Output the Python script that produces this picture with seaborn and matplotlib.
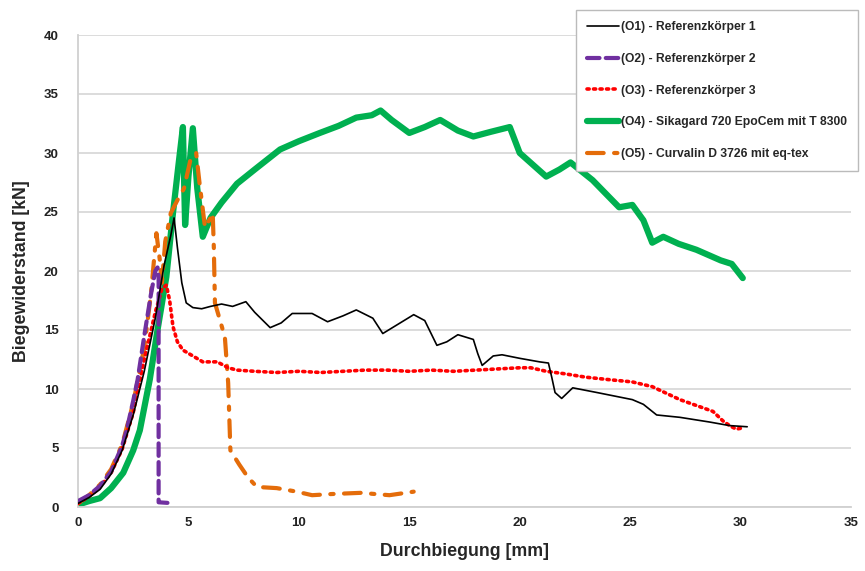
import matplotlib
matplotlib.use("Agg")
import matplotlib.pyplot as plt
import seaborn as sns
import pandas as pd

# ---- data ----
o1_x = [0, 0.5, 1.0, 1.5, 2.0, 2.5, 3.0, 3.5, 3.9, 4.2, 4.35, 4.5, 4.7, 4.9, 5.2, 5.6, 6.0, 6.5, 7.0, 7.6,
        8.0, 8.7, 9.2, 9.7, 10.6, 11.3, 12.0, 12.6, 13.35, 13.8, 14.5, 15.2, 15.7, 16.25, 16.7, 17.2, 17.9,
        18.1, 18.3, 18.8, 19.2, 20.0, 20.9, 21.3, 21.45, 21.6, 21.9, 22.4, 23.5, 25.1, 25.6, 26.2, 27.25,
        28.6, 29.5, 30.3]
o1_y = [0.3, 0.8, 1.5, 2.8, 4.8, 7.8, 11.5, 16.0, 20.5, 23.0, 24.5, 22.0, 19.0, 17.3, 16.9, 16.8, 17.0,
        17.2, 17.0, 17.4, 16.5, 15.2, 15.6, 16.4, 16.4, 15.7, 16.2, 16.7, 16.0, 14.7, 15.5, 16.3, 15.8,
        13.7, 14.0, 14.6, 14.2, 13.0, 12.0, 12.8, 12.9, 12.6, 12.3, 12.2, 11.0, 9.7, 9.2, 10.1, 9.7, 9.1,
        8.7, 7.8, 7.6, 7.2, 6.9, 6.8]

o2_x = [0, 0.5, 1.0, 1.5, 2.0, 2.2, 2.5, 2.7, 3.0, 3.3, 3.5, 3.6, 3.65, 3.65, 4.05]
o2_y = [0.5, 1.0, 1.8, 3.0, 5.2, 6.5, 9.0, 10.8, 14.5, 18.0, 20.0, 20.3, 19.5, 0.4, 0.35]

o3_x = [0, 0.5, 1.0, 1.5, 2.0, 2.5, 3.0, 3.5, 3.8, 4.0, 4.15, 4.3, 4.5, 4.75, 5.2, 5.65, 6.3, 6.8, 7.2,
        8, 9, 10, 11, 12, 13, 14, 15, 16, 17, 18, 19, 20, 20.5, 21.2, 22, 23, 24, 25.1, 26, 27.25, 28,
        28.75, 29.2, 29.5, 29.8, 30.1]
o3_y = [0.3, 0.9, 1.7, 2.9, 4.9, 8.0, 12.5, 16.5, 18.5, 18.8, 17.5, 15.3, 14.0, 13.3, 12.8, 12.3, 12.3,
        11.8, 11.6, 11.5, 11.4, 11.5, 11.4, 11.5, 11.6, 11.6, 11.5, 11.6, 11.5, 11.6, 11.7, 11.8, 11.8,
        11.5, 11.3, 11.0, 10.8, 10.6, 10.2, 9.1, 8.6, 8.1, 7.3, 6.9, 6.6, 6.7]

o4_x = [0, 0.5, 1.0, 1.5, 2.05, 2.5, 2.8, 3.25, 3.6, 4.0, 4.3, 4.55, 4.75, 4.8, 4.85, 5.0, 5.2, 5.4,
        5.65, 6.0, 6.5, 7.2, 8.0, 9.15, 10.0, 10.95, 11.8, 12.6, 13.3, 13.7, 14.2, 15.0, 15.7, 16.4,
        17.2, 17.9, 18.7, 19.55, 20.0, 20.6, 21.2, 21.8, 22.3, 23.3, 24.5, 25.1, 25.6, 26.0, 26.5, 27.2,
        28.0, 29.1, 29.6, 30.1]
o4_y = [0.2, 0.5, 0.75, 1.6, 2.9, 4.8, 6.5, 10.8, 15.0, 19.5, 24.9, 29.0, 32.2, 28.0, 23.9, 28.0, 32.1,
        27.0, 22.9, 24.5, 25.8, 27.4, 28.6, 30.3, 31.0, 31.7, 32.3, 33.0, 33.2, 33.6, 32.8, 31.7, 32.2,
        32.8, 31.9, 31.4, 31.8, 32.2, 30.0, 29.0, 28.0, 28.6, 29.2, 27.7, 25.4, 25.6, 24.3, 22.4, 22.9,
        22.3, 21.8, 20.9, 20.6, 19.4]

o5_x = [0, 0.5, 1.0, 1.5, 2.0, 2.5, 3.0, 3.3, 3.55, 3.7, 3.8, 3.95, 4.2, 4.5, 4.8, 5.1, 5.35, 5.5, 5.75,
        6.0, 6.1, 6.15, 6.2, 6.65, 6.8, 6.9, 7.3, 7.7, 8.1, 9.0, 9.9, 10.6, 11.5, 12.8, 14.1, 15.2]
o5_y = [0.3, 1.0, 1.9, 3.2, 5.3, 8.8, 13.5, 18.0, 23.2, 21.0, 19.0, 22.5, 24.9, 26.0, 27.0, 29.5, 30.0,
        27.5, 23.7, 24.5, 24.9, 22.0, 17.3, 14.4, 10.5, 4.8, 3.6, 2.5, 1.7, 1.6, 1.3, 1.0, 1.1, 1.2, 1.0,
        1.3]

labels = ["(O1) - Referenzkörper 1", "(O2) - Referenzkörper 2", "(O3) - Referenzkörper 3",
          "(O4) - Sikagard 720 EpoCem mit T 8300", "(O5) - Curvalin D 3726 mit eq-tex"]
x_ticks = [0, 5, 10, 15, 20, 25, 30, 35]
y_ticks = [0, 5, 10, 15, 20, 25, 30, 35, 40]

# ---- plotting ----
sns.set_theme(style="white")
plt.rcParams['font.family'] = ['Liberation Sans', 'DejaVu Sans']
plt.rcParams['font.weight'] = 'bold'

fig = plt.figure(figsize=(8.65, 5.71), dpi=100)
ax = fig.add_axes([78 / 865, 1 - 507 / 571, (851 - 78) / 865, (507 - 35) / 571])

series = [
    (o1_x, o1_y, dict(color="black", lw=1.2, ls="-", zorder=6)),
    (o2_x, o2_y, dict(color="#7030A0", lw=3.0, ls=(0, (3, 1.5)), zorder=5)),
    (o3_x, o3_y, dict(color="#FF0000", lw=2.6, ls=(0, (0.6, 1.2)), zorder=4)),
    (o4_x, o4_y, dict(color="#00B050", lw=4.5, ls="-", zorder=2)),
    (o5_x, o5_y, dict(color="#E46C0A", lw=3.0, ls=(0, (4, 2.5, 0.8, 2.5)), zorder=3)),
]

handles = []
for (xs, ys, st), lab in zip(series, labels):
    df = pd.DataFrame({"x": xs, "y": ys})
    sns.lineplot(data=df, x="x", y="y", ax=ax, sort=False, estimator=None,
                 color=st["color"], linewidth=st["lw"], zorder=st["zorder"], label=lab)
    line = ax.get_lines()[-1]
    line.set_linestyle(st["ls"])
    if st["ls"] != "-":
        line.set_dash_capstyle("round")
    handles.append(line)

ax.set_xlim(0, 35)
ax.set_ylim(0, 40)
ax.set_xticks(x_ticks)
ax.set_yticks(y_ticks)
ax.set_xticklabels([str(t) for t in x_ticks], fontsize=9.5, fontweight="bold")
ax.set_yticklabels([str(t) for t in y_ticks], fontsize=9.5, fontweight="bold")
ax.tick_params(axis="y", length=0, pad=14, colors="#222222")
ax.tick_params(axis="x", length=0, pad=7, colors="#222222")

ax.grid(axis="y", color="#D9D9D9", linewidth=1.3)
ax.grid(axis="x", visible=False)
ax.set_axisbelow(True)
for s in ["top", "right"]:
    ax.spines[s].set_visible(False)
for s in ["left", "bottom"]:
    ax.spines[s].set_color("#D0D0D0")
    ax.spines[s].set_linewidth(1.3)

ax.set_xlabel("Durchbiegung [mm]", fontsize=12.8, fontweight="bold", labelpad=10)
ax.set_ylabel("Biegewiderstand [kN]", fontsize=12.8, fontweight="bold", labelpad=10)

if ax.legend_:
    ax.legend_.remove()
leg = fig.legend(handles=handles, labels=labels, loc="upper right",
                 bbox_to_anchor=(858 / 865, 1 - 10 / 571), bbox_transform=fig.transFigure,
                 borderaxespad=0, frameon=True, fancybox=False, framealpha=1,
                 edgecolor="#BBBBBB", prop={"size": 8.7, "weight": "bold"},
                 handlelength=2.6, handletextpad=0.15, labelspacing=1.62,
                 borderpad=0.95)
leg.get_frame().set_linewidth(1.0)

fig.savefig("out.png", dpi=100)
